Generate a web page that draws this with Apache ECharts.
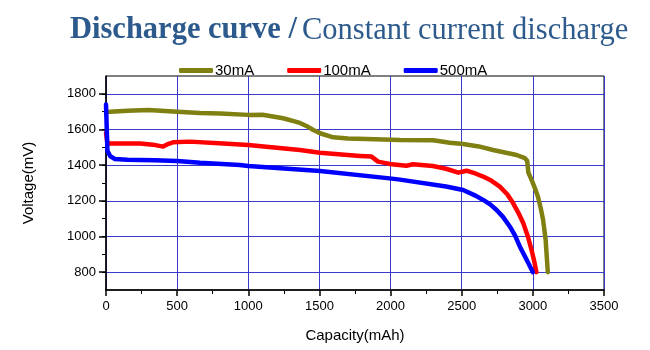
<!DOCTYPE html>
<html>
<head>
<meta charset="utf-8">
<script src="https://cdn.jsdelivr.net/npm/echarts@6/dist/echarts.min.js"></script>
<style>
  html, body { margin: 0; padding: 0; background: #fff; }
  #chart { width: 650px; height: 350px; }
</style>
</head>
<body>
<div id="chart"></div>
<script>
// 30mA
var cap30 = [0, 30, 150, 300, 500, 660, 800, 1000, 1100, 1245, 1363, 1420, 1457, 1504, 1597, 1700, 1832, 2066, 2300, 2417, 2510, 2620, 2720, 2886, 2944, 2960, 2968, 2991, 3010, 3036, 3055, 3072, 3090, 3105];
var volt30 = [1695, 1700, 1705, 1710, 1700, 1692, 1690, 1682, 1683, 1663, 1637, 1615, 1597, 1579, 1556, 1550, 1547, 1541, 1540, 1526, 1519, 1505, 1485, 1457, 1439, 1425, 1360, 1317, 1280, 1223, 1160, 1093, 980, 800];
// 100mA
var cap100 = [0, 10, 100, 239, 330, 401, 440, 471, 590, 823, 1000, 1363, 1504, 1785, 1866, 1912, 1993, 2111, 2157, 2297, 2390, 2476, 2534, 2600, 2651, 2710, 2768, 2820, 2862, 2900, 2933, 2965, 2991, 3010, 3025];
var volt100 = [1580, 1522, 1522, 1522, 1515, 1504, 1520, 1528, 1532, 1522, 1513, 1485, 1470, 1452, 1448, 1420, 1407, 1397, 1405, 1395, 1380, 1358, 1369, 1352, 1336, 1312, 1280, 1237, 1186, 1130, 1074, 1000, 924, 860, 800];
// 500mA
var cap500 = [0, 10, 30, 63, 150, 239, 344, 500, 661, 941, 1000, 1504, 1993, 2066, 2390, 2510, 2600, 2651, 2700, 2745, 2790, 2839, 2875, 2909, 2940, 2968, 3000];
var volt500 = [1740, 1480, 1450, 1435, 1430, 1429, 1427, 1423, 1413, 1401, 1395, 1367, 1326, 1319, 1280, 1261, 1228, 1205, 1180, 1149, 1110, 1055, 1005, 943, 895, 851, 800];

var seriesNames = ['30mA', '100mA', '500mA'];
var yLabels = [800, 1000, 1200, 1400, 1600, 1800];
var yMinor = [800, 900, 1000, 1100, 1200, 1300, 1400, 1500, 1600, 1700, 1800];

function pairs(xs, ys) {
  return xs.map(function (x, i) { return [x, ys[i]]; });
}

var myChart = echarts.init(document.getElementById('chart'));
var lineColors = ['#7f7f12', '#ff0000', '#0000ff'];
var allData = [pairs(cap30, volt30), pairs(cap100, volt100), pairs(cap500, volt500)];

var option = {
  animation: false,
  title: {
    text: '{b|Discharge curve /} {r|Constant current discharge}',
    left: 65,
    top: 10,
    textStyle: {
      rich: {
        b: { fontFamily: 'Liberation Serif', fontWeight: 'bold', fontSize: 30.5, color: '#2d5a8c' },
        r: { fontFamily: 'Liberation Serif', fontWeight: 'normal', fontSize: 30.5, color: '#2d5a8c' }
      }
    }
  },
  legend: {
    data: seriesNames,
    left: 174,
    top: 58,
    itemWidth: 34,
    itemHeight: 5,
    itemGap: 33,
    icon: 'roundRect',
    textStyle: { fontFamily: 'Liberation Sans', fontSize: 15, color: '#000', padding: [0, 0, 0, -3] }
  },
  grid: {
    left: 106,
    right: 46,
    top: 76,
    bottom: 60,
    show: true,
    borderColor: '#000',
    borderWidth: 1,
    backgroundColor: 'transparent'
  },
  xAxis: {
    type: 'value',
    min: 0,
    max: 3500,
    interval: 500,
    name: 'Capacity(mAh)',
    nameLocation: 'middle',
    nameGap: 38,
    nameTextStyle: { fontFamily: 'Liberation Sans', fontSize: 15, color: '#000' },
    axisLine: { lineStyle: { color: '#000', width: 1.5 } },
    axisTick: { length: 6, lineStyle: { color: '#000', width: 1.5 } },
    minorTick: { show: true, splitNumber: 2, length: 4, lineStyle: { color: '#000', width: 1 } },
    axisLabel: { fontFamily: 'Liberation Sans', fontSize: 13, color: '#000', margin: 10, formatter: function (v) { return String(v); } },
    splitLine: { show: true, lineStyle: { color: '#3a3ac8', width: 1 } }
  },
  yAxis: [{
    type: 'value',
    min: 700,
    max: 1900,
    name: 'Voltage(mV)',
    nameLocation: 'middle',
    nameGap: 70,
    nameTextStyle: { fontFamily: 'Liberation Sans', fontSize: 15, color: '#000' },
    axisLine: { show: true, lineStyle: { color: '#000', width: 1.5 } },
    axisTick: { show: true, customValues: yLabels, length: 7, lineStyle: { color: '#000', width: 1.5 } },
    axisLabel: { customValues: yLabels, fontFamily: 'Liberation Sans', fontSize: 13, color: '#000', margin: 10, formatter: function (v) { return String(v); } },
    splitLine: { show: true, lineStyle: { color: '#3a3ac8', width: 1 } }
  }, {
    type: 'value',
    position: 'left',
    min: 700,
    max: 1900,
    axisLine: { show: false },
    axisTick: { show: true, customValues: yMinor, length: 4, lineStyle: { color: '#000', width: 1 } },
    axisLabel: { show: false },
    splitLine: { show: false }
  }],
  series: seriesNames.map(function (name, i) {
    return {
      name: name,
      type: 'line',
      data: allData[i],
      showSymbol: false,
      symbol: 'none',
      lineStyle: { color: lineColors[i], width: 4.5, join: 'round', cap: 'round' },
      itemStyle: { color: lineColors[i] },
      z: 3
    };
  })
};
myChart.setOption(option);
</script>
</body>
</html>
